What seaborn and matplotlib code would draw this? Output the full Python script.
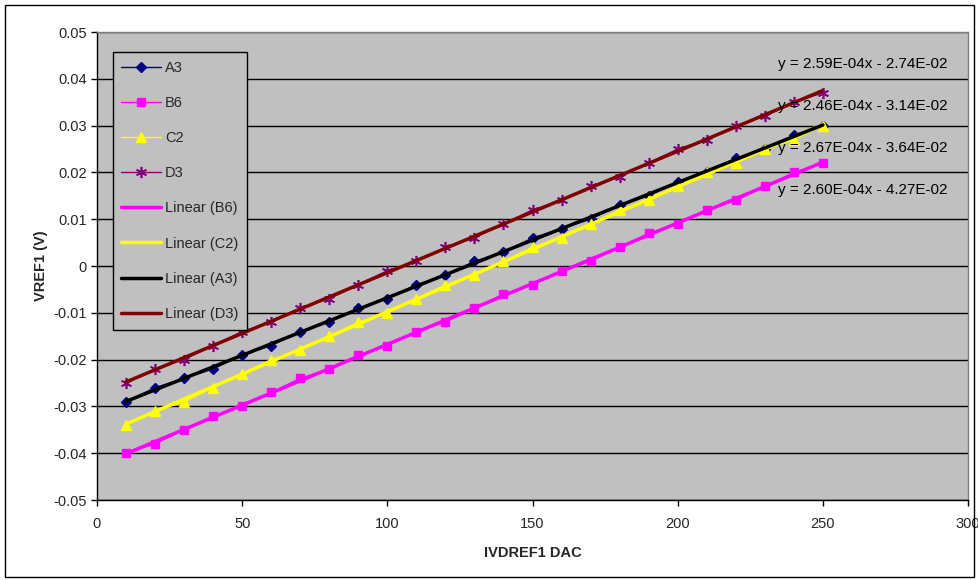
import matplotlib
matplotlib.use("Agg")
import matplotlib.pyplot as plt
import matplotlib.ticker as mticker
from matplotlib.patches import Rectangle
import seaborn as sns
import numpy as np

dac = [10, 20, 30, 40, 50, 60, 70, 80, 90, 100, 110, 120, 130,
       140, 150, 160, 170, 180, 190, 200, 210, 220, 230, 240, 250]

a3 = [-0.029, -0.026, -0.024, -0.022, -0.019, -0.017, -0.014, -0.012, -0.009,
      -0.007, -0.004, -0.002, 0.001, 0.003, 0.006, 0.008, 0.010, 0.013, 0.015,
      0.018, 0.020, 0.023, 0.025, 0.028, 0.030]
b6 = [-0.040, -0.038, -0.035, -0.032, -0.030, -0.027, -0.024, -0.022, -0.019,
      -0.017, -0.014, -0.012, -0.009, -0.006, -0.004, -0.001, 0.001, 0.004, 0.007,
      0.009, 0.012, 0.014, 0.017, 0.020, 0.022]
c2 = [-0.034, -0.031, -0.029, -0.026, -0.023, -0.020, -0.018, -0.015, -0.012,
      -0.010, -0.007, -0.004, -0.002, 0.001, 0.004, 0.006, 0.009, 0.012, 0.014,
      0.017, 0.020, 0.022, 0.025, 0.027, 0.030]
d3 = [-0.025, -0.022, -0.020, -0.017, -0.014, -0.012, -0.009, -0.007, -0.004,
      -0.001, 0.001, 0.004, 0.006, 0.009, 0.012, 0.014, 0.017, 0.019, 0.022,
      0.025, 0.027, 0.030, 0.032, 0.035, 0.037]

series_names = ["A3", "B6", "C2", "D3"]
trend_order = ["B6", "C2", "A3", "D3"]
equations = ["y = 2.59E-04x - 2.74E-02", "y = 2.46E-04x - 3.14E-02",
             "y = 2.67E-04x - 3.64E-02", "y = 2.60E-04x - 4.27E-02"]
eq_y = [0.0432, 0.0342, 0.0252, 0.0162]

values = {"A3": a3, "B6": b6, "C2": c2, "D3": d3}
colors = {"A3": "#000080", "B6": "#FF00FF", "C2": "#FFFF00", "D3": "#800080"}
markers = {"A3": "D", "B6": "s", "C2": "^", "D3": (6, 2, 0)}
msizes = {"A3": 5.5, "B6": 6, "C2": 7, "D3": 8}
trend_colors = {"B6": "#FF00FF", "C2": "#FFFF00", "A3": "#000000", "D3": "#800000"}

sns.set_style("white", {"axes.facecolor": "#C0C0C0"})
plt.rcParams["font.family"] = ["Liberation Sans", "DejaVu Sans"]

fig = plt.figure(figsize=(9.79, 5.80), dpi=100)
ax = fig.add_axes([97 / 979, 1 - 500 / 580, 871 / 979, 468 / 580])

for name in series_names:
    sns.lineplot(x=dac, y=values[name], ax=ax, color=colors[name], linewidth=1,
                 marker=markers[name], markersize=msizes[name],
                 markeredgecolor=colors[name], markeredgewidth=1 if name != "D3" else 1.2,
                 label=name)

for name in trend_order:
    sns.regplot(x=np.array(dac), y=np.array(values[name]), ax=ax, scatter=False,
                ci=None, color=trend_colors[name], line_kws={"lw": 2.5},
                label=f"Linear ({name})")

for txt, yy in zip(equations, eq_y):
    ax.text(293, yy, txt, ha="right", va="center", fontsize=11, color="black")

ax.set_xlim(0, 300)
ax.set_ylim(-0.05, 0.05)
ax.set_xticks(range(0, 301, 50))
ax.set_yticks(np.linspace(-0.05, 0.05, 11))
ax.yaxis.set_major_formatter(mticker.FuncFormatter(lambda v, p: f"{round(v, 3):g}"))
ax.yaxis.grid(True, color="black", linewidth=1)
ax.set_axisbelow(True)
ax.tick_params(axis="both", direction="out", length=4, width=1, color="black",
               labelsize=10.5, left=True, bottom=True)
ax.tick_params(axis="x", pad=8)
for s in ax.spines.values():
    s.set_color("#808080")
    s.set_linewidth(1)
ax.spines["left"].set_color("black")
ax.spines["bottom"].set_color("black")

ax.set_xlabel("IVDREF1 DAC", fontsize=10.5, fontweight="bold", labelpad=11)
ax.set_ylabel("VREF1 (V)", fontsize=10.5, fontweight="bold", labelpad=4)

leg = ax.legend(loc="upper left", bbox_to_anchor=(0.018, 0.957), fontsize=10.5,
                frameon=True, fancybox=False, edgecolor="black", framealpha=1,
                labelspacing=1.45, handlelength=2.7, handletextpad=0.3,
                borderpad=0.6, borderaxespad=0)
leg.get_frame().set_linewidth(1)

fig.patches.append(Rectangle((5 / 979, 3 / 580), 969 / 979, 572 / 580,
                             transform=fig.transFigure, fill=False,
                             edgecolor="black", linewidth=1))

fig.savefig("out.png", dpi=100)
